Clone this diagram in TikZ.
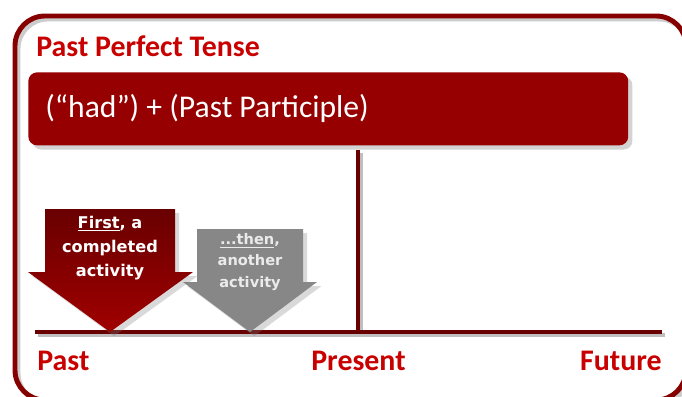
\documentclass[tikz,border=0pt]{standalone}
\usepackage{fontspec}
\setmainfont{Carlito}
\newfontfamily\arrowfont{DejaVu Sans}
\usetikzlibrary{positioning}
\usetikzlibrary{shadows}

\definecolor{titlered}{RGB}{200,0,0}
\definecolor{barred}{RGB}{150,0,0}
\definecolor{linered}{RGB}{105,0,0}
\definecolor{framered}{RGB}{135,0,0}
\definecolor{arrowgray}{RGB}{135,135,135}

\begin{document}
\begin{tikzpicture}[x=0.02cm, y=-0.02cm,
      heading/.style={text=titlered, font=\bfseries\fontsize{17}{20}\selectfont, inner sep=0pt},
      formulabar/.style={rectangle, rounded corners=5pt, fill=barred, minimum width=12cm, minimum height=1.46cm, drop shadow={opacity=0.35}},
      formulatext/.style={text=white, font=\fontsize{18}{21}\selectfont, inner sep=0pt},
      timeline/.style={draw=linered, line width=2.2pt},
      lineshadow/.style={draw=black!25, line width=2.2pt},
      timelabel/.style={text=titlered, font=\bfseries\fontsize{17}{20}\selectfont, inner sep=0pt},
      firstarrow/.style={top color=linered, bottom color=barred!90!red, drop shadow={opacity=0.3}},
      thenarrow/.style={fill=arrowgray, drop shadow={opacity=0.3}},
      firsttext/.style={text=white, align=center, font=\arrowfont\bfseries\fontsize{9.2}{13.8}\selectfont},
      thentext/.style={text=white!92!black, align=center, font=\arrowfont\bfseries\fontsize{8.3}{12.3}\selectfont}
      ]
      \useasboundingbox (0,0) rectangle (682,396);

      % Frame
      \draw[black!20, line width=2.8pt, rounded corners=17pt] (18,19) rectangle (689,403);
      \draw[framered, line width=2.8pt, rounded corners=17pt] (15,16) rectangle (686,400);

      % Title and formula
      \node[heading, anchor=base west] (title) at (36,56) {Past Perfect Tense};
      \node[formulabar, anchor=north west] (bar) at (28,72) {};
      \node[formulatext, anchor=west] (formula) at ([xshift=0.34cm]bar.west) {(“had”) + (Past Participle)};

      % Timeline
      \coordinate (tlstart) at (35,332);
      \coordinate (tlend) at (662,332);
      \coordinate (now) at (358,332);
      \coordinate (nowtop) at (358,150);
      \draw[lineshadow] ([shift={(3,3)}]tlstart) -- ([shift={(3,3)}]tlend);
      \draw[lineshadow] ([shift={(3,3)}]nowtop) -- ([shift={(3,0)}]now);
      \draw[timeline] (tlstart) -- (tlend);
      \draw[timeline] (nowtop) -- (now);

      \node[timelabel, anchor=base west] (past) at (37,370) {Past};
      \node[timelabel, anchor=base west] (present) at (311,370) {Present};
      \node[timelabel, anchor=base east] (future) at (662,370) {Future};

      % Arrows
      \path[thenarrow] (197,229) -- (303,229) -- (303,282) -- (317,282) -- (250,332)
            -- (183,282) -- (197,282) -- cycle;
      \path[firstarrow] (45,209) -- (175,209) -- (175,272) -- (193,272) -- (110,332)
            -- (28,272) -- (45,272) -- cycle;
      \node[firsttext] (first) at (110,248) {\underline{First}, a\\completed\\activity};
      \node[thentext] (then) at (250,262) {\underline{...then},\\another\\activity};

    \end{tikzpicture}
\end{document}
